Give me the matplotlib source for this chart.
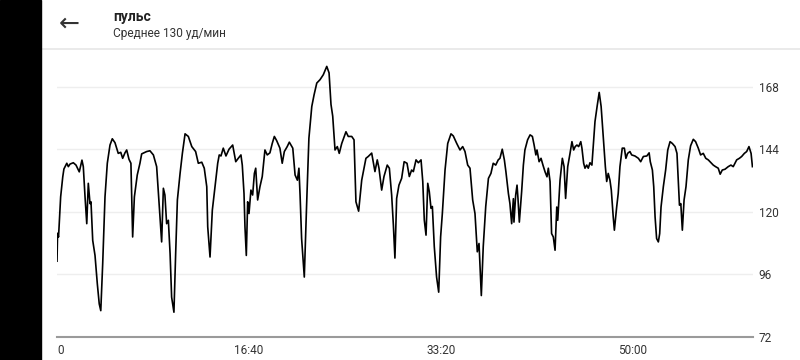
import matplotlib
matplotlib.use("Agg")
import matplotlib.pyplot as plt
from matplotlib.patches import Rectangle
from matplotlib.lines import Line2D

# time in seconds, heart rate in bpm
time_s = [0, 3, 8, 19, 30, 36, 51, 59, 68, 85, 99, 116, 130, 137, 146, 155, 163, 172, 177, 186,
          198, 210, 220, 228, 238, 250, 262, 276, 288, 302, 319, 332, 342, 354, 363, 375, 385, 394, 403, 418,
          432, 441, 467, 484, 502, 519, 533, 545, 554, 562, 571, 580, 589, 597, 609, 618, 627, 641, 653, 667,
          684, 702, 722, 736, 754, 767, 780, 785, 797, 809, 823, 837, 845, 854, 866, 880, 896, 915, 931, 944,
          958, 965, 974, 979, 986, 993, 1000, 1010, 1019, 1028, 1035, 1045, 1057, 1069, 1083, 1095, 1109, 1121, 1132, 1144,
          1161, 1173, 1184, 1199, 1210, 1228, 1240, 1252, 1260, 1266, 1274, 1288, 1300, 1312, 1327, 1339, 1353, 1370, 1387, 1405,
          1417, 1427, 1436, 1448, 1460, 1470, 1483, 1505, 1517, 1535, 1547, 1557, 1571, 1587, 1609, 1621, 1639, 1656, 1668, 1677,
          1691, 1703, 1720, 1731, 1743, 1752, 1760, 1769, 1781, 1795, 1808, 1823, 1835, 1847, 1856, 1870, 1882, 1896, 1905, 1913,
          1922, 1931, 1939, 1948, 1955, 1965, 1977, 1988, 1998, 2007, 2021, 2035, 2052, 2064, 2082, 2099, 2113, 2125, 2139, 2151,
          2165, 2177, 2189, 2198, 2210, 2220, 2233, 2247, 2260, 2272, 2285, 2298, 2307, 2319, 2330, 2338, 2351, 2359, 2368, 2377,
          2380, 2389, 2396, 2401, 2408, 2420, 2429, 2437, 2451, 2464, 2476, 2485, 2494, 2500, 2511, 2521, 2531, 2542, 2552, 2559,
          2568, 2576, 2585, 2594, 2603, 2608, 2620, 2632, 2641, 2649, 2660, 2672, 2682, 2691, 2699, 2708, 2717, 2728, 2734, 2743,
          2750, 2759, 2767, 2776, 2786, 2793, 2802, 2813, 2824, 2834, 2845, 2856, 2863, 2871, 2880, 2887, 2897, 2903, 2915, 2923,
          2932, 2944, 2955, 2963, 2972, 2984, 2993, 3010, 3028, 3040, 3054, 3072, 3084, 3090, 3101, 3108, 3115, 3123, 3132, 3139,
          3146, 3158, 3170, 3181, 3193, 3205, 3219, 3229, 3236, 3242, 3249, 3257, 3266, 3276, 3288, 3300, 3314, 3326, 3340, 3352,
          3366, 3379, 3392, 3406, 3418, 3430, 3444, 3454, 3465, 3479, 3496, 3510, 3522, 3540, 3554, 3566, 3580, 3592, 3604, 3615,
          3622]
heart_rate = [101, 111.7, 110.3, 125.7, 133.4, 136.4, 138.6, 137.3, 138.3, 138.8, 137.9, 135.3, 139.8, 137.3, 125.7, 115.4, 130.9, 123.1, 123.8, 109,
              103.2, 92.3, 84.6, 82, 100, 125.7, 138.6, 145.6, 148, 146.5, 142.4, 142.8, 140.5, 142.6, 143.7, 140.1, 138.6, 110.3, 125.7, 134.1,
              138.6, 142.2, 143.1, 143.4, 141.8, 137.3, 122, 108.4, 129, 126.4, 115.4, 116.7, 103.9, 87.2, 81.4, 103.9, 124.5, 134.7, 142.4, 149.9,
              148.9, 145, 143.1, 138.6, 139, 136.7, 129.6, 114.2, 102.6, 120.6, 129.6, 138.6, 141.8, 141.4, 144.4, 141.4, 144, 145.6, 139.2, 140.5,
              141.8, 137.9, 127, 114.2, 103.2, 123.8, 119.3, 128.3, 126.4, 134.7, 136.7, 124.5, 129.6, 133.5, 143.7, 141.8, 142.6, 146.2, 148.9, 147.3,
              144.4, 138.6, 143.1, 145, 146.7, 144.4, 134.1, 132.1, 136.7, 126.4, 109.7, 94.9, 122.5, 148.2, 160.4, 164.9, 169.4, 170.7, 172.6, 175.8,
              173.3, 161.2, 156.7, 143.7, 145, 142.4, 146.2, 150.7, 148.9, 148.9, 147.6, 123.8, 120.2, 132.1, 140.5, 141.2, 142.5, 135.4, 139.9, 136.7,
              128.3, 133.5, 137.9, 136.7, 126.4, 114.8, 102.2, 125.1, 130.2, 132.8, 139.2, 138.6, 133.5, 136, 135.4, 139.9, 138.8, 139.9, 131.6, 116.8,
              111, 130.9, 127.7, 121.3, 122, 106.6, 94.9, 89.1, 110.3, 119.3, 136, 146.2, 149.9, 149.1, 146.2, 143.7, 145, 143.1, 137.9, 136.7,
              124.5, 119.3, 104.6, 107.8, 87.8, 106.6, 122, 132.8, 134.7, 138.6, 137.9, 139.9, 140.5, 144, 139.9, 135.4, 127, 123.1, 115.4, 125,
              116, 126.4, 130.2, 125, 116, 127.7, 137.9, 143.7, 147.6, 149.5, 148.9, 145.6, 141.8, 143.7, 139.2, 140.5, 137.9, 135.3, 133.4, 136.7,
              131.6, 111.6, 110.3, 105.2, 121.8, 116.7, 132.1, 140.5, 137.3, 125.1, 137.3, 142.4, 146.9, 143.7, 145, 145.6, 145, 146.9, 144.4, 138.6,
              136.7, 137.9, 136.7, 138.8, 137.9, 145, 154.6, 160.4, 165.8, 160.4, 148.9, 137.3, 131.6, 134.7, 132.1, 128.3, 118, 112.9, 121.8, 127,
              137.3, 144.4, 144.4, 140.5, 142.4, 143.1, 141.8, 141.4, 140.5, 139.2, 141.2, 141.4, 142.6, 139.2, 136, 129.6, 118, 109.7, 108.4, 111.6,
              121.8, 129.6, 136, 143.7, 146.9, 146.2, 145, 142.4, 132.1, 122.5, 123.1, 112.9, 124.5, 129.6, 139.9, 145.3, 147.8, 146.9, 144.4, 141.8,
              142.4, 140.5, 139.9, 138.8, 137.9, 137.3, 136.7, 134.4, 136, 136.3, 137.3, 137.9, 137.3, 139.9, 140.5, 141.2, 142.4, 143.1, 145, 142.4,
              137.3]

x_ticks = [0, 1000, 2000, 3000]
x_labels = ["0", "16:40", "33:20", "50:00"]
y_ticks = [72, 96, 120, 144, 168]
y_labels = ["72", "96", "120", "144", "168"]
title = "пульс"
subtitle = "Среднее 130 уд/мин"

plt.rcParams['font.family'] = ['Roboto', 'DejaVu Sans']

W, H = 800, 360
fig = plt.figure(figsize=(8, 3.6), dpi=100)
fig.patch.set_facecolor('white')

# black bar at left
fig.add_artist(Rectangle((0, 0), 41 / W, 1, transform=fig.transFigure, color='black', zorder=5))
# header separator
fig.add_artist(Line2D([41 / W, 1], [1 - 48.5 / H, 1 - 48.5 / H], transform=fig.transFigure,
                      color='#e6e6e6', lw=1.2))

fig.text(69 / W, 1 - 24 / H, "←", fontsize=18, color='#333333', ha='center', va='center',
         family=['DejaVu Sans'])
fig.text(113 / W, 1 - 17 / H, title, fontsize=10, fontweight='bold', color='#222222',
         ha='left', va='center')
fig.text(113 / W, 1 - 34 / H, subtitle, fontsize=8.6, color='#333333', ha='left', va='center')

x0, x1 = 57, 753
y_bot = 336.7
ymin, ymax = 72, 180
px_per = 62.5 / 24
y_top = y_bot - (ymax - ymin) * px_per
ax = fig.add_axes([x0 / W, 1 - y_bot / H, (x1 - x0) / W, (y_bot - y_top) / H])
ax.set_xlim(0, 3625)
ax.set_ylim(ymin, ymax)

for v in y_ticks[1:]:
    ax.axhline(v, color='#eeeeee', lw=1.0, zorder=1)
ax.axhline(72, color='#9a9a9a', lw=1.5, zorder=2, clip_on=False)

ax.plot(time_s, heart_rate, color='black', lw=1.2, zorder=3)

for s in ax.spines.values():
    s.set_visible(False)
ax.set_xticks(x_ticks)
ax.set_xticklabels(x_labels)
ax.tick_params(axis='x', length=0, pad=5, labelsize=8.5, labelcolor='#333333')
ax.get_xticklabels()[0].set_horizontalalignment('left')
ax.yaxis.tick_right()
ax.set_yticks(y_ticks)
ax.set_yticklabels(y_labels)
ax.tick_params(axis='y', length=0, pad=4, labelsize=8.5, labelcolor='#333333')

fig.savefig("out.png", dpi=100, facecolor='white')
